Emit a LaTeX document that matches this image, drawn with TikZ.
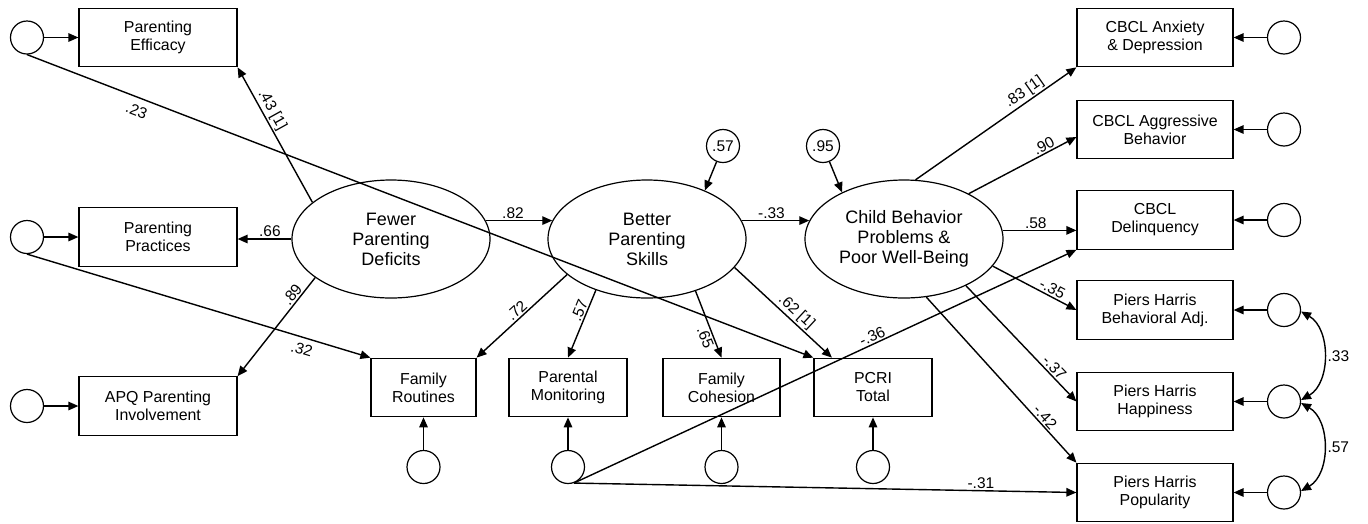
\documentclass[tikz,border=0pt]{standalone}
\usepackage{fontspec}
\setsansfont{Liberation Sans}
\usetikzlibrary{arrows.meta, calc, shapes.geometric}
\tikzset{
  every picture/.style={font=\sffamily, line width=1.4pt},
  box/.style={draw, rectangle, align=center, inner sep=2pt, line width=1.2pt, minimum width=#1, minimum height=58.5pt, font=\sffamily\fontsize{15.9}{18}\selectfont},
  box/.default=156pt,
  latent/.style={draw, ellipse, align=center, inner sep=0pt, line width=1.2pt, minimum width=198pt, minimum height=118pt, font=\sffamily\fontsize{18}{20}\selectfont},
  err/.style={draw, circle, inner sep=0pt, line width=1.2pt, minimum size=33pt, font=\sffamily\fontsize{15.5}{18}\selectfont},
  arrow/.style={-{Triangle[length=10pt, width=8.5pt]}},
  twoway/.style={{Triangle[length=10pt, width=8.5pt]}-{Triangle[length=10pt, width=8.5pt]}},
  coef/.style={font=\sffamily\fontsize{15.5}{18}\selectfont, inner sep=1.5pt},
}

\begin{document}
\begin{tikzpicture}[x=1pt, y=-1pt]
  \useasboundingbox (0,0) rectangle (1368,523);
  % latent factors
  \node[latent] (fewer) at (391,239) {Fewer\\Parenting\\Deficits};
  \node[latent] (better) at (647,239) {Better\\Parenting\\Skills};
  \node[latent] (child) at (904,239) {Child Behavior\\Problems \&\\Poor Well-Being};
  \node[err] (dbetter) at (723,146) {.57};
  \node[err] (dchild) at (823,146) {.95};
  % left indicators
  \node[box=158pt] (eff) at (158,37.5) {Parenting\\Efficacy};
  \node[box=158pt] (prac) at (158,237) {Parenting\\Practices};
  \node[box=158pt] (apq) at (158,406) {APQ Parenting\\Involvement};
  \node[err] (eeff) at (27,37.5) {};
  \node[err] (eprac) at (27,237) {};
  \node[err] (eapq) at (27,406) {};
  % bottom indicators
  \node[box=105pt] (routines) at (423.5,387.5) {Family\\Routines};
  \node[box=118pt] (monitor) at (568,387.5) {Parental\\Monitoring};
  \node[box=117pt] (cohesion) at (721.5,387.5) {Family\\Cohesion};
  \node[box=118pt] (pcri) at (873,387.5) {PCRI\\Total};
  \node[err] (eroutines) at (423.5,467) {};
  \node[err] (emonitor) at (568,467) {};
  \node[err] (ecohesion) at (721.5,467) {};
  \node[err] (epcri) at (873,467) {};
  % right indicators
  \node[box] (anx) at (1155,37.5) {CBCL Anxiety\\\& Depression};
  \node[box] (agg) at (1155,129.5) {CBCL Aggressive\\Behavior};
  \node[box] (delq) at (1155,220) {CBCL\\Delinquency};
  \node[box] (beh) at (1155,310) {Piers Harris\\Behavioral Adj.};
  \node[box] (hap) at (1155,401.5) {Piers Harris\\Happiness};
  \node[box] (pop) at (1155,492.5) {Piers Harris\\Popularity};
  \node[err] (eanx) at (1284,37.5) {};
  \node[err] (eagg) at (1284,129.5) {};
  \node[err] (edelq) at (1284,220) {};
  \node[err] (ebeh) at (1284,310) {};
  \node[err] (ehap) at (1284,401.5) {};
  \node[err] (epop) at (1284,492.5) {};
  % residual arrows
  \draw[arrow] (eeff) -- (eff);
  \draw[arrow] (eprac) -- (prac);
  \draw[arrow] (eapq) -- (apq);
  \draw[arrow] (eroutines) -- (routines);
  \draw[arrow] (emonitor) -- (monitor);
  \draw[arrow] (ecohesion) -- (cohesion);
  \draw[arrow] (epcri) -- (pcri);
  \draw[arrow] (eanx) -- (anx);
  \draw[arrow] (eagg) -- (agg);
  \draw[arrow] (edelq) -- (delq);
  \draw[arrow] (ebeh) -- (beh);
  \draw[arrow] (ehap) -- (hap);
  \draw[arrow] (epop) -- (pop);
  \draw[arrow] (dbetter) -- (better.40);
  \draw[arrow] (dchild) -- (child.143);
  % loadings and paths
  \draw[arrow] (fewer.155) -- node[coef, pos=0.65, sloped, above] {.43 [1]} (eff.south east);
  \draw[arrow] (fewer.west) -- node[coef, pos=0.4, above] {.66} (fewer.west -| prac.east);
  \draw[arrow] (fewer.207) -- node[coef, pos=0.22, sloped, above] {.89} (apq.north east);
  \draw[arrow] (fewer.11) -- node[coef, pos=0.41, above] {.82} (better.169);
  \draw[arrow] (better.11) -- node[coef, pos=0.44, above] {-.33} (child.169);
  \draw[arrow] (better.204) -- node[coef, pos=0.5, sloped, above] {.72} (routines.north east);
  \draw[arrow] (better.225) -- node[coef, pos=0.34, sloped, above] {.57} (monitor.north);
  \draw[arrow] (better.313) -- node[coef, pos=0.66, sloped, below] {.65} (cohesion.north);
  \draw[arrow] (better.342) -- node[coef, pos=0.57, sloped, above] {.62 [1]} (pcri.144);
  \draw[arrow] (child.79) -- node[coef, pos=0.71, sloped, above] {.83 [1]} (anx.south west);
  \draw[arrow] (child.35) -- node[coef, pos=0.73, sloped, above] {.90} ($(agg.west)+(0,7.5)$);
  \draw[arrow] (child.5) -- node[coef, pos=0.45, above] {.58} (child.5 -| delq.west);
  \draw[arrow] (child.343) -- node[coef, pos=0.67, sloped, above] {-.35} (beh.west);
  \draw[arrow] (child.323) -- node[coef, pos=0.75, sloped, above] {-.37} (hap.west);
  \draw[arrow] (child.291) -- node[coef, pos=0.755, sloped, above] {-.42} (pop.north west);
  % cross-loadings of residuals
  \draw[arrow] (eeff.south) -- node[coef, pos=0.145, sloped, below=5pt] {.23} (pcri.north west);
  \draw[arrow] (eprac.south) -- node[coef, pos=0.81, sloped, below=4pt] {.32} (routines.north west);
  \draw[arrow] (emonitor.290) -- node[coef, pos=0.6, sloped, above] {-.36} (delq.south west);
  \draw[arrow] (emonitor.290) -- node[coef, pos=0.81, above] {-.31} (pop.west);
  % correlated residuals
  \draw[twoway] (ebeh.-5) to[bend left=60] node[coef, right=2pt] {.33} (ehap.5);
  \draw[twoway] (ehap.-5) to[bend left=60] node[coef, right=2pt] {.57} (epop.5);
\end{tikzpicture}
\end{document}
